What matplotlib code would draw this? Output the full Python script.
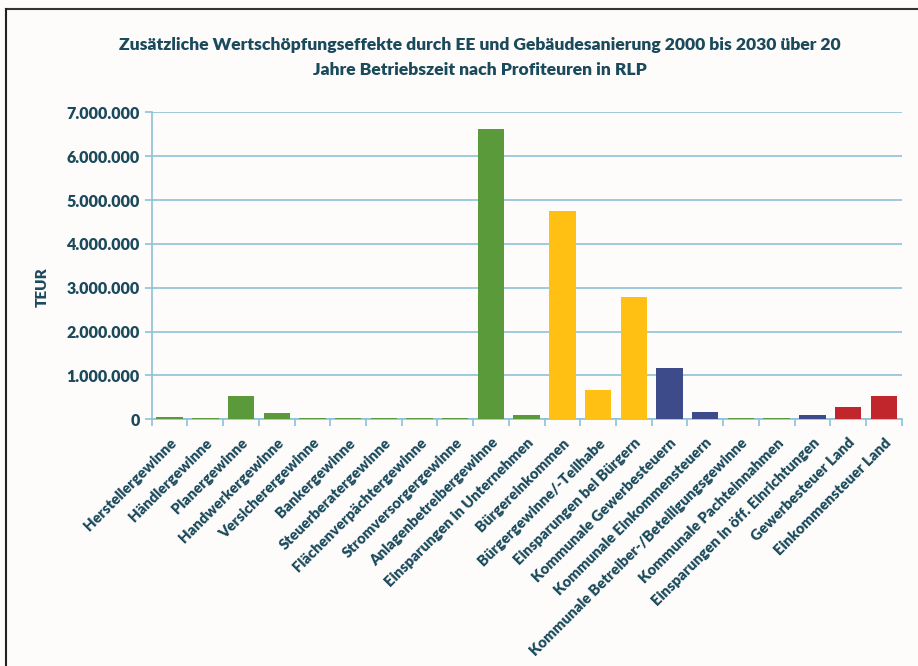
import matplotlib
matplotlib.use('Agg')
import matplotlib.pyplot as plt
from matplotlib.lines import Line2D
from matplotlib.ticker import FuncFormatter, MultipleLocator
import numpy as np

plt.rcParams['font.family'] = ['Lato', 'DejaVu Sans']

# profiteers and values (TEUR)
kategorien = ['Herstellergewinne', 'Händlergewinne', 'Planergewinne', 'Handwerkergewinne',
              'Versicherergewinne', 'Bankergewinne', 'Steuerberatergewinne',
              'Flächenverpächtergewinne', 'Stromversorgergewinne', 'Anlagenbetreibergewinne',
              'Einsparungen in Unternehmen', 'Bürgereinkommen', 'Bürgergewinne/-Teilhabe',
              'Einsparungen bei Bürgern', 'Kommunale Gewerbesteuern',
              'Kommunale Einkommensteuern', 'Kommunale Betreiber-/Beteiligungsgewinne',
              'Kommunale Pachteinnahmen', 'Einsparungen in öff. Einrichtungen',
              'Gewerbesteuer Land', 'Einkommensteuer Land']
werte = [50000, 25000, 540000, 150000, 20000, 40000, 20000, 40000, 25000, 6610000,
         90000, 4750000, 670000, 2780000, 1180000, 170000, 20000, 20000, 100000,
         280000, 540000]
gruppe = ['u'] * 11 + ['b'] * 3 + ['k', 'k', 'u', 'u', 'k'] + ['l', 'l']

farben = {'u': '#5B9A3B', 'b': '#FFC013', 'k': '#3D4B8B', 'l': '#C0262C'}
textfarbe = '#1B4A5C'
gitter = '#8CC3D8'

fig = plt.figure(figsize=(9.18, 6.66), dpi=100)
fig.patch.set_facecolor('#FDFCFA')
ax = fig.add_axes([0.1653, 0.3704, 0.8169, 0.461])
ax.set_facecolor('#FDFCFA')

x = np.arange(len(kategorien))
ax.bar(x, werte, width=0.74, color=[farben[g] for g in gruppe], zorder=3)

ax.set_xlim(-0.5, len(kategorien) - 0.5)
ax.set_ylim(0, 7000000)
ax.yaxis.set_major_locator(MultipleLocator(1000000))
ax.yaxis.set_major_formatter(FuncFormatter(lambda v, p: f'{int(v):,}'.replace(',', '.')))
ax.grid(axis='y', color=gitter, linewidth=1.2, zorder=0)

for s in ['top', 'right']:
    ax.spines[s].set_visible(False)
ax.spines['left'].set_color(gitter)
ax.spines['bottom'].set_color(gitter)
ax.spines['left'].set_linewidth(1.2)
ax.spines['bottom'].set_linewidth(1.2)

ax.set_xticks(x)
ax.set_xticklabels(kategorien, rotation=45, ha='right', rotation_mode='anchor',
                   fontsize=10.7, fontweight='heavy', color=textfarbe)
ax.set_xticks(np.arange(-0.5, len(kategorien)), minor=True)
ax.tick_params(axis='x', which='major', length=0, pad=12)
ax.tick_params(axis='x', which='minor', length=5, color=gitter, width=1.2)
ax.tick_params(axis='y', length=5, color=gitter, width=1.2, labelsize=11.5,
               labelcolor=textfarbe)
for lbl in ax.get_yticklabels():
    lbl.set_fontweight('heavy')

ax.set_ylabel('TEUR', fontsize=11, fontweight='heavy', color=textfarbe)
ax.yaxis.set_label_coords(-0.138, 0.43)

fig.text(0.523, 0.9325, 'Zusätzliche Wertschöpfungseffekte durch EE und Gebäudesanierung 2000 bis 2030 über 20',
         ha='center', va='center', fontsize=12.6, fontweight='heavy', color=textfarbe)
fig.text(0.523, 0.895, 'Jahre Betriebszeit nach Profiteuren in RLP',
         ha='center', va='center', fontsize=12.6, fontweight='heavy', color=textfarbe)

# frame of the scanned figure (top and left edge)
fig.add_artist(Line2D([0.0065, 1.0], [0.987, 0.987], color='#333333', linewidth=1.5))
fig.add_artist(Line2D([0.0065, 0.0065], [0.0, 0.987], color='#222222', linewidth=1.5))

fig.savefig('out.png', dpi=100, facecolor=fig.get_facecolor())
